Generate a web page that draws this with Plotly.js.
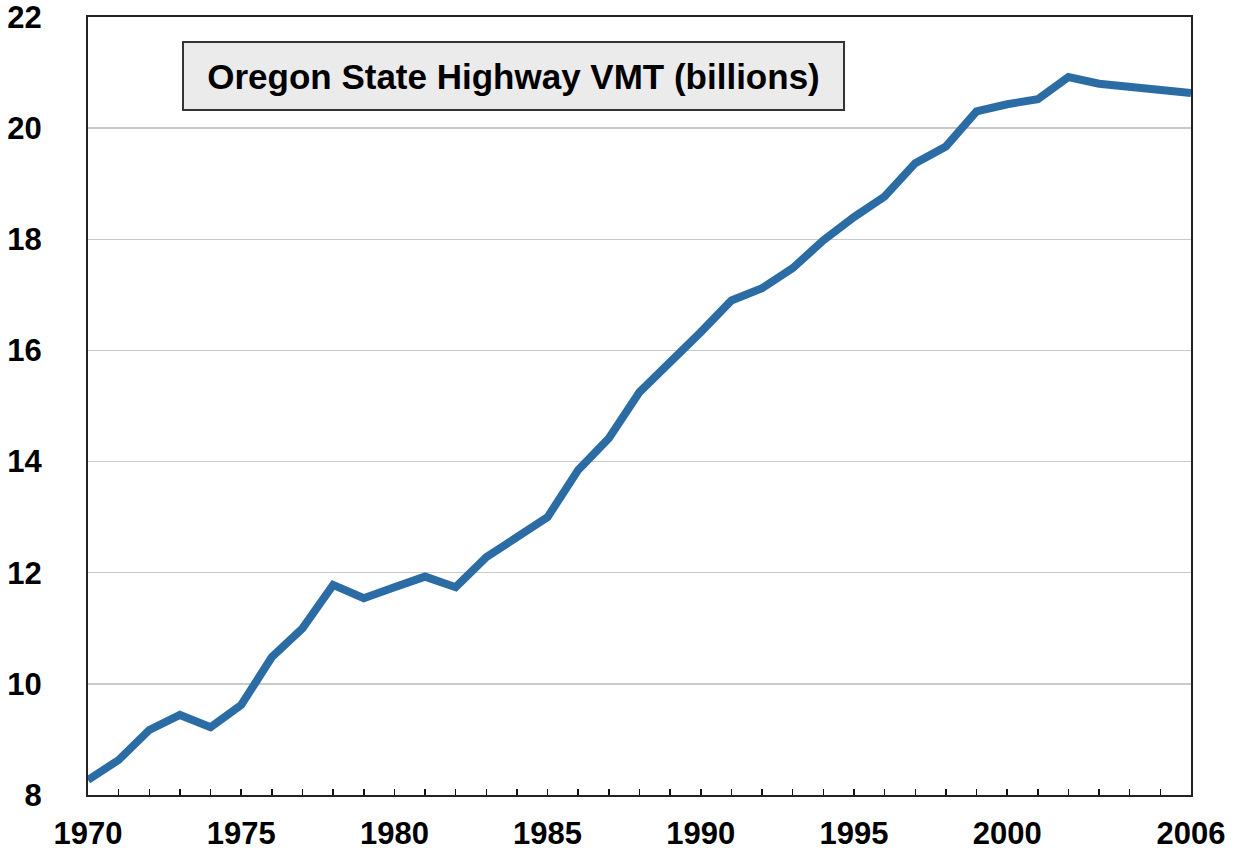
<!DOCTYPE html>
<html>
<head>
<meta charset="utf-8">
<script src="https://cdn.plot.ly/plotly-3.0.1.min.js"></script>
<style>html,body{margin:0;padding:0;background:#fff;}#chart{width:1234px;height:852px;}</style>
</head>
<body>
<div id="chart"></div>
<script>
const years = [1970,1971,1972,1973,1974,1975,1976,1977,1978,1979,1980,1981,1982,1983,1984,1985,1986,1987,1988,1989,1990,1991,1992,1993,1994,1995,1996,1997,1998,1999,2000,2001,2002,2003,2004,2005,2006];
const vmt = [8.27,8.63,9.17,9.44,9.22,9.62,10.48,11.0,11.78,11.54,11.74,11.93,11.74,12.28,12.64,13.0,13.85,14.42,15.25,15.78,16.33,16.9,17.12,17.48,17.98,18.4,18.77,19.37,19.67,20.3,20.43,20.52,20.92,20.8,20.74,20.71,20.63];
const xTickLabels = {1970:'1970',1975:'1975',1980:'1980',1985:'1985',1990:'1990',1995:'1995',2000:'2000',2006:'2006'};
const yTicks = [8,10,12,14,16,18,20,22];
const titleText = 'Oregon State Highway VMT (billions)';

const font = {family:'Liberation Sans, Arial, sans-serif', weight:'bold', color:'#000'};

const trace = {
  x: years, y: vmt, type:'scatter', mode:'lines',
  line:{color:'#2c6ca4', width:8}, hoverinfo:'skip'
};

const layout = {
  width:1234, height:852,
  margin:{l:88, r:43, t:17, b:57},
  paper_bgcolor:'#fff', plot_bgcolor:'#fff',
  showlegend:false,
  xaxis:{
    range:[1970,2006], tickmode:'array', tickvals:years,
    ticktext: years.map(y => xTickLabels[y] || ''),
    ticks:'inside', ticklen:6, tickwidth:1.5, tickcolor:'#111',
    showgrid:false, zeroline:false,
    showline:true, linecolor:'#222', linewidth:2, mirror:true,
    tickfont:Object.assign({size:31}, font), ticklabelstandoff:10,
    ticklabeloverflow:'allow'
  },
  yaxis:{
    range:[8,22], tickmode:'array', tickvals:yTicks,
    ticks:'', showgrid:true, gridcolor:'#c9c9c9', gridwidth:1.5,
    zeroline:false, showline:true, linecolor:'#222', linewidth:2, mirror:true,
    tickfont:Object.assign({size:31}, font), ticklabelstandoff:38,
    ticklabeloverflow:'allow'
  },
  annotations:[{
    text:titleText, xref:'paper', yref:'paper', x:0.386, y:0.924,
    xanchor:'center', yanchor:'middle', showarrow:false,
    font:Object.assign({size:35}, font),
    bgcolor:'#ebebeb', bordercolor:'#333', borderwidth:2,
    width:657, height:64
  }]
};

Plotly.newPlot('chart',[trace],layout,{displayModeBar:false, staticPlot:true});
</script>
</body>
</html>
